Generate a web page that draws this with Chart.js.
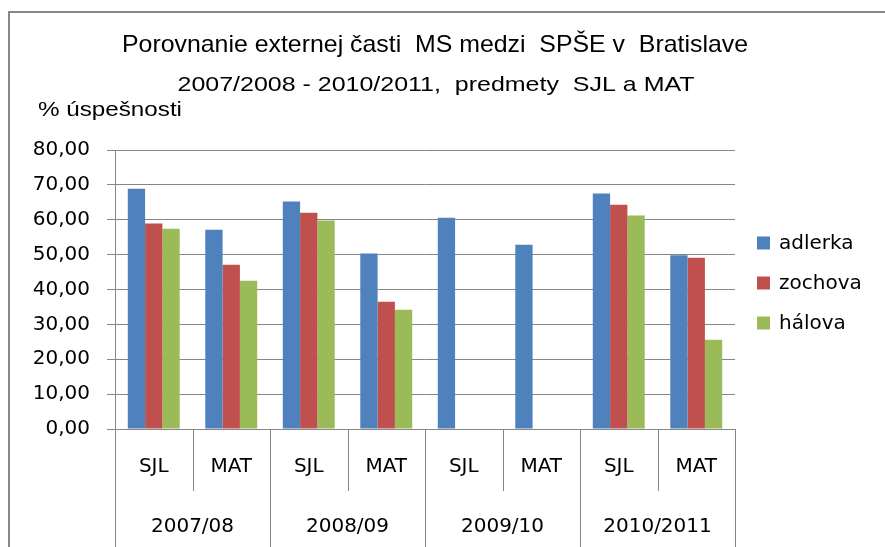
<!DOCTYPE html>
<html>
<head>
<meta charset="utf-8">
<script src="https://cdn.jsdelivr.net/npm/chart.js@4"></script>
<style>
    body { margin: 0; background: #fff; }
    canvas { display: block; }
</style>
</head>
<body>
<canvas id="chart" width="885" height="547"></canvas>
<script>
const categories = ['SJL', 'MAT', 'SJL', 'MAT', 'SJL', 'MAT', 'SJL', 'MAT'];
const years = ['2007/08', '2008/09', '2009/10', '2010/2011'];
const seriesNames = ['adlerka', 'zochova', 'hálova'];
const adlerka = [68.9, 57.1, 65.2, 50.3, 60.6, 52.8, 67.5, 49.8];
const zochova = [58.9, 47.1, 62.0, 36.5, null, null, 64.3, 49.1];
const halova = [57.4, 42.5, 59.8, 34.2, null, null, 61.2, 25.6];
const yMin = 0, yMax = 80, yStep = 10;

const colors = ['#4F81BD', '#C0504D', '#9BBB59'];
const lineColor = '#868686';
const tickFont = 'DejaVu Sans';
const titleFont = '"Liberation Sans Narrow", "Liberation Sans"';

// draws a text squeezed/stretched to the width it has in the original picture
function fitText(ctx, text, cx, cy, width, font) {
    ctx.save();
    ctx.font = font;
    const w = ctx.measureText(text).width;
    ctx.translate(cx, cy);
    ctx.scale(width / w, 1);
    ctx.textAlign = 'center';
    ctx.textBaseline = 'middle';
    ctx.fillStyle = '#000';
    ctx.fillText(text, 0, 0);
    ctx.restore();
}

const decorations = {
    id: 'decorations',
    afterDraw(chart) {
        const ctx = chart.ctx;
        const xs = chart.scales.x;
        const n = categories.length;
        const px = i => xs.getPixelForValue(i);
        const edge = i => i === 0 ? xs.left : (i === n ? xs.right : (px(i - 1) + px(i)) / 2);
        const top = xs.top;

        ctx.save();
        // outer frame (only top and left are visible)
        ctx.strokeStyle = lineColor;
        ctx.lineWidth = 2;
        ctx.beginPath();
        ctx.moveTo(9, 547);
        ctx.lineTo(9, 12);
        ctx.lineTo(885, 12);
        ctx.stroke();

        // separators of the two-level category axis
        ctx.lineWidth = 1;
        for (let i = 0; i <= n; i++) {
            const x = Math.round(edge(i)) + 0.5;
            ctx.beginPath();
            ctx.moveTo(x, top);
            ctx.lineTo(x, i % 2 === 0 ? chart.height : top + 62);
            ctx.stroke();
        }

        // category and year labels
        ctx.fillStyle = '#000';
        ctx.textAlign = 'center';
        ctx.textBaseline = 'middle';
        ctx.font = '20px "' + tickFont + '"';
        categories.forEach((c, i) => ctx.fillText(c, px(i), top + 38));
        years.forEach((y, j) => ctx.fillText(y, (edge(2 * j) + edge(2 * j + 2)) / 2, top + 98));

        // legend
        chart.data.datasets.forEach((ds, k) => {
            const cy = 243 + k * 40;
            ctx.fillStyle = ds.backgroundColor;
            ctx.fillRect(757, cy - 6.5, 13, 13);
            ctx.fillStyle = '#000';
            ctx.textAlign = 'left';
            ctx.font = '20px "' + tickFont + '"';
            ctx.fillText(ds.label, 779, cy + 1);
        });

        // titles
        fitText(ctx, 'Porovnanie externej časti  MS medzi  SPŠE v  Bratislave', 435, 45, 626, '24px ' + titleFont);
        fitText(ctx, '2007/2008 - 2010/2011,  predmety  SJL a MAT', 436, 85, 517, '21px ' + titleFont);
        fitText(ctx, '% úspešnosti', 110, 110, 144, '21px ' + titleFont);
        ctx.restore();
    }
};

new Chart(document.getElementById('chart'), {
    type: 'bar',
    data: {
        labels: categories,
        datasets: [adlerka, zochova, halova].map((d, k) => ({
            label: seriesNames[k],
            data: d,
            backgroundColor: colors[k],
            borderWidth: 0,
            categoryPercentage: 0.67,
            barPercentage: 1.0
        }))
    },
    options: {
        responsive: false,
        animation: false,
        layout: { padding: { top: 150, right: 150, left: 0, bottom: 0 } },
        plugins: {
            legend: { display: false },
            title: { display: false },
            tooltip: { enabled: false }
        },
        scales: {
            x: {
                ticks: { display: false },
                grid: { display: false },
                border: { display: true, color: lineColor },
                afterFit: scale => { scale.height = 118; }
            },
            y: {
                min: yMin,
                max: yMax,
                ticks: {
                    stepSize: yStep,
                    color: '#000',
                    padding: 17,
                    font: { family: tickFont, size: 20 },
                    callback: v => v.toFixed(2).replace('.', ',')
                },
                grid: { color: lineColor, tickLength: 8 },
                border: { display: true, color: lineColor },
                afterFit: scale => { scale.width = 115; }
            }
        }
    },
    plugins: [decorations]
});
</script>
</body>
</html>
